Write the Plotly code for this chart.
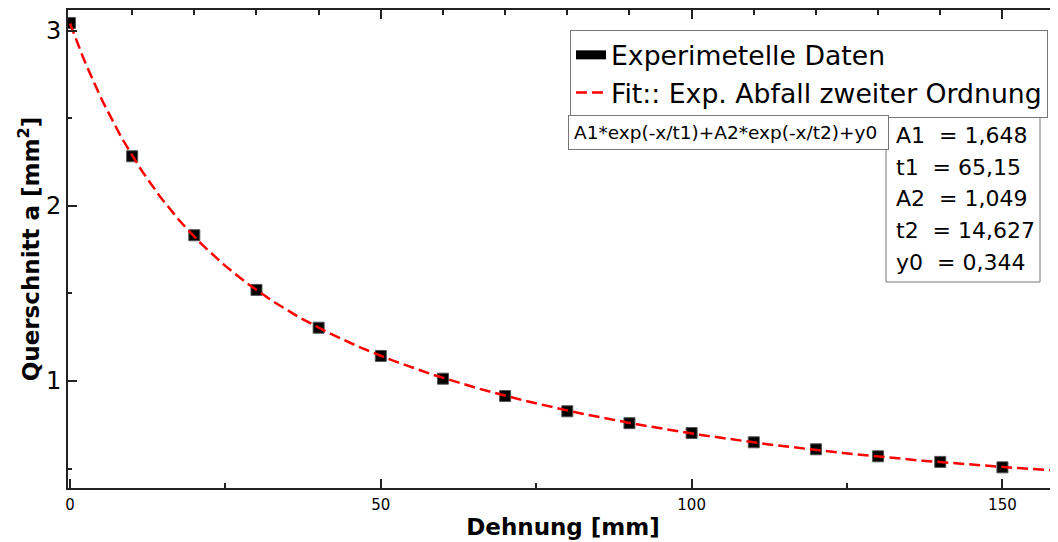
import numpy as np
import plotly.graph_objects as go

# ---------------- data ----------------
dehnung = [0, 10, 20, 30, 40, 50, 60, 70, 80, 90, 100, 110, 120, 130, 140, 150]
querschnitt = [3.044, 2.283, 1.832, 1.520, 1.304, 1.143, 1.013, 0.914, 0.827,
               0.759, 0.703, 0.650, 0.610, 0.570, 0.538, 0.507]

# fit parameters (second-order exponential decay) as printed in the chart
param_names = ["A1", "t1", "A2", "t2", "y0"]
param_values = [1.648, 65.15, 1.049, 14.627, 0.344]
param_labels = ["1,648", "65,15", "1,049", "14,627", "0,344"]
fit_formula = "A1*exp(-x/t1)+A2*exp(-x/t2)+y0"

x_ticks_bottom = [0, 50, 100, 150]
x_minor_bottom = [25, 75, 125]
x_ticks_top = [50, 100, 150]
x_minor_top = [10, 20, 30, 40, 60, 70, 80, 90, 110, 120, 130, 140]
y_ticks = [1, 2, 3]
y_minor = [0.5, 1.5, 2.5]

legend_data = "Experimetelle Daten"
legend_fit = "Fit:: Exp. Abfall zweiter Ordnung"

X_RANGE = [-0.32, 158.94]
Y_RANGE = [0.389, 3.118]

# ---------------- fit curve from the printed parameters ----------------
A1, t1, A2, t2, y0 = param_values
fit_x = np.linspace(0, X_RANGE[1], 300)
fit_y = A1 * np.exp(-fit_x / t1) + A2 * np.exp(-fit_x / t2) + y0

FONT = "DejaVu Sans"
OFF = 8  # page body margin
W, H = 1058 - OFF, 542 - OFF
# target plot area in window pixels: left 68, top 10, right 1058, bottom 488
ML, MR, MT, MB = 68 - OFF, 0, 10 - OFF, 542 - 488
PW, PH = W - ML - MR, H - MT - MB


def px(xp):  # window pixel -> paper
    return (xp - 68) / PW


def py(yp):
    return 1 - (yp - 10) / PH


fig = go.Figure()

# legend proxy for data (thick black bar)
fig.add_trace(go.Scatter(x=[None], y=[None], mode="lines", name=legend_data,
                         line=dict(color="black", width=9), hoverinfo="skip"))
# data markers
fig.add_trace(go.Scatter(x=dehnung, y=querschnitt, mode="markers", showlegend=False,
                         marker=dict(symbol="square", size=11, color="black",
                                     line=dict(width=1, color="#555"))))
# fit line
fig.add_trace(go.Scatter(x=fit_x, y=fit_y, mode="lines", name=legend_fit,
                         line=dict(color="#ff0000", width=2.5, dash="11px,5px")))
# invisible trace to activate the top axis
fig.add_trace(go.Scatter(x=[None], y=[None], xaxis="x2", showlegend=False,
                         hoverinfo="skip"))

axis_col = "#222222"

fig.update_layout(
    width=W, height=H,
    margin=dict(l=ML, r=MR, t=MT, b=MB, pad=0),
    paper_bgcolor="white", plot_bgcolor="white",
    font=dict(family=FONT, color="black"),
    xaxis=dict(range=X_RANGE, showgrid=False, zeroline=False,
               showline=True, linecolor=axis_col, linewidth=2,
               ticks="inside", ticklen=9, tickwidth=1.5, tickcolor=axis_col,
               tickvals=x_ticks_bottom, ticktext=[str(v) for v in x_ticks_bottom],
               tickfont=dict(size=15, family=FONT, color="black"),
               ticklabelstandoff=2,
               minor=dict(tickvals=x_minor_bottom, ticks="inside", ticklen=5,
                          tickwidth=1.5, tickcolor=axis_col, showgrid=False),
               title=dict(text="Dehnung [mm]", standoff=6,
                          font=dict(size=23, family=FONT, weight="bold", color="black"))),
    xaxis2=dict(range=X_RANGE, overlaying="x", side="top", showgrid=False,
                zeroline=False, showline=True, linecolor=axis_col, linewidth=2,
                ticks="inside", ticklen=9, tickwidth=1.5, tickcolor=axis_col,
                tickvals=x_ticks_top, showticklabels=False,
                minor=dict(tickvals=x_minor_top, ticks="inside", ticklen=5,
                           tickwidth=1.5, tickcolor=axis_col, showgrid=False)),
    yaxis=dict(range=Y_RANGE, showgrid=False, zeroline=False,
               showline=True, linecolor=axis_col, linewidth=2,
               ticks="inside", ticklen=9, tickwidth=1.5, tickcolor=axis_col,
               tickvals=y_ticks, ticktext=[str(v) for v in y_ticks],
               tickfont=dict(size=24, family=FONT, color="black"),
               ticklabelstandoff=0,
               minor=dict(tickvals=y_minor, ticks="inside", ticklen=4,
                          tickwidth=1.5, tickcolor=axis_col, showgrid=False),
               title=dict(text="Querschnitt a [mm<sup>2</sup>]", standoff=0,
                          font=dict(size=23, family=FONT, weight="bold", color="black"))),
    legend=dict(x=px(570), y=py(30), xanchor="left", yanchor="top",
                bgcolor="white", bordercolor="#777777", borderwidth=1,
                font=dict(size=26.7, family=FONT, color="black"),
                itemwidth=30, tracegroupgap=0),
    showlegend=True,
)

# formula box
fig.add_annotation(xref="paper", yref="paper", x=px(568), y=py(115),
                   xanchor="left", yanchor="top", text=fit_formula, showarrow=False,
                   align="left", font=dict(size=18.5, family=FONT, color="black"),
                   bordercolor="#777777", borderwidth=1, borderpad=5,
                   bgcolor="white", width=309, height=23)

# parameter box
fig.add_shape(type="rect", xref="paper", yref="paper",
              x0=px(886), x1=px(1040), y0=py(282), y1=py(115),
              line=dict(color="#777777", width=1), fillcolor="white", layer="above")
line_y = [135, 167, 198, 230, 262]
for name, lab, yy in zip(param_names, param_labels, line_y):
    fig.add_annotation(xref="paper", yref="paper", x=px(894), y=py(yy),
                       xanchor="left", yanchor="middle", showarrow=False,
                       text=f"{name}\u00a0\u00a0= {lab}", align="left",
                       font=dict(size=22, family=FONT, color="black"))

fig.write_html("out.html")
